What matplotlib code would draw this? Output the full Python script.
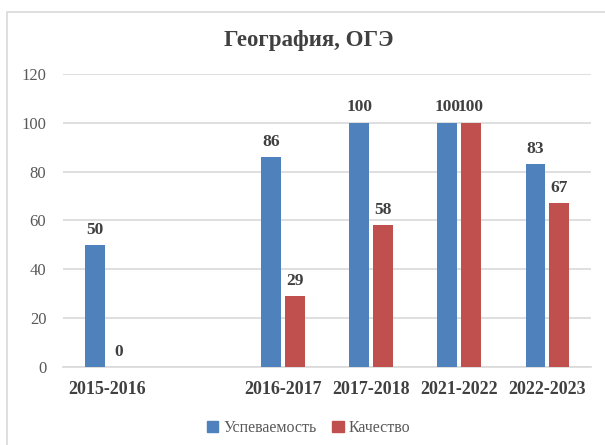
import matplotlib.pyplot as plt
import matplotlib.patches as mpatches
import numpy as np

categories = ["2015-2016", "", "2016-2017", "2017-2018", "2021-2022", "2022-2023"]
uspev = [50, None, 86, 100, 100, 83]
kachestvo = [0, None, 29, 58, 100, 67]

blue = "#4f81bd"
red = "#c0504d"
serif = ["Liberation Serif", "DejaVu Serif"]

plt.rcParams["font.family"] = serif

fig = plt.figure(figsize=(6.05, 4.45), dpi=100)
ax = fig.add_axes([0.104, 0.175, 0.873, 0.659])

# chart border
fig.patches.append(mpatches.Rectangle((7 / 605, -0.1), 1.0, 1 - 12 / 445 + 0.1,
                                      transform=fig.transFigure, fill=False,
                                      edgecolor="#d9d9d9", linewidth=1.2))

x = np.arange(len(categories))
w = 0.22
off = 0.135
for i, (u, k) in enumerate(zip(uspev, kachestvo)):
    if u is None:
        continue
    ax.bar(x[i] - off, u, w, color=blue, zorder=3)
    ax.bar(x[i] + off, k, w, color=red, zorder=3)
    ax.text(x[i] - off, u + 3, str(u), ha="center", va="bottom",
            fontsize=12.5, fontweight="bold", color="#404040")
    ax.text(x[i] + off, k + 3, str(k), ha="center", va="bottom",
            fontsize=12.5, fontweight="bold", color="#404040")

ax.set_xlim(-0.5, len(categories) - 0.5)
ax.set_ylim(0, 120)
ax.set_yticks(range(0, 121, 20))
ax.set_xticks(x)
ax.set_xticklabels(categories, fontsize=13, fontweight="bold", color="#404040")
ax.tick_params(axis="y", labelsize=12, labelcolor="#595959", length=0, pad=12)
ax.tick_params(axis="x", length=0, pad=10)
ax.grid(axis="y", color="#d9d9d9", linewidth=1.2, zorder=0)
for s in ["top", "right", "left"]:
    ax.spines[s].set_visible(False)
ax.spines["bottom"].set_color("#d9d9d9")
ax.spines["bottom"].set_linewidth(1.2)

fig.text(0.51, 0.91, "География, ОГЭ", ha="center", va="center",
         fontsize=16.5, fontweight="bold", color="#404040")

handles = [mpatches.Patch(color=blue, label="Успеваемость"),
           mpatches.Patch(color=red, label="Качество")]
fig.legend(handles=handles, loc="center", bbox_to_anchor=(0.51, 0.038), ncol=2,
           frameon=False, fontsize=11.5, handlelength=0.7, handleheight=0.7,
           handletextpad=0.3, columnspacing=1.0, labelcolor="#595959")

fig.savefig("out.png", dpi=100)
